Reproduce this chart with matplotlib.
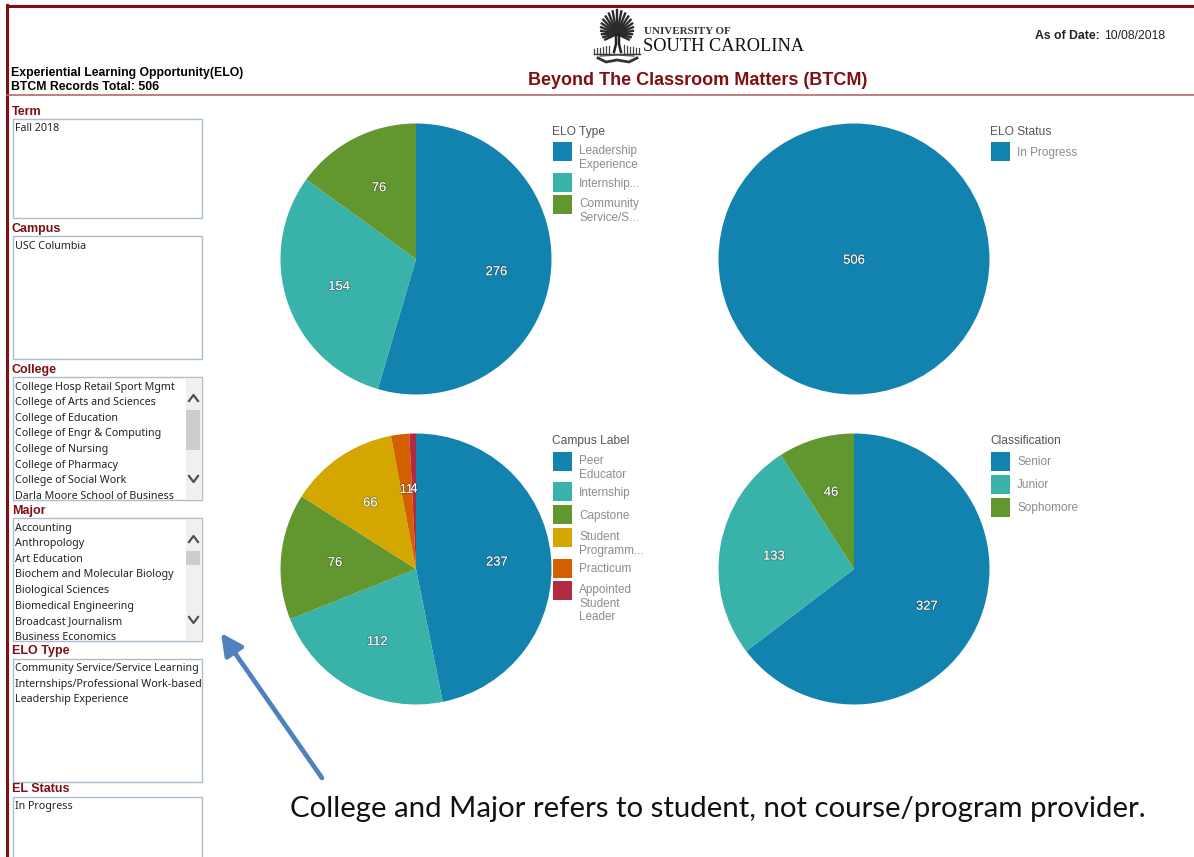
"""Beyond The Classroom Matters dashboard screenshot, redrawn."""
import numpy as np
import matplotlib
matplotlib.use('Agg')
import matplotlib.pyplot as plt
import matplotlib.patheffects as pe
from matplotlib.patches import Rectangle

W, H = 1194, 857

# chart data
elo_type = [276, 154, 76]
elo_type_labels = ['Leadership\nExperience', 'Internship...', 'Community\nService/S...']
elo_status = [506]
elo_status_labels = ['In Progress']
campus_label = [237, 112, 76, 66, 11, 4]
campus_label_labels = ['Peer\nEducator', 'Internship', 'Capstone', 'Student\nProgramm...',
                       'Practicum', 'Appointed\nStudent\nLeader']
classification = [327, 133, 46]
classification_labels = ['Senior', 'Junior', 'Sophomore']

term_items = ['Fall 2018']
campus_items = ['USC Columbia']
college_items = ['College Hosp Retail Sport Mgmt', 'College of Arts and Sciences',
                 'College of Education', 'College of Engr & Computing', 'College of Nursing',
                 'College of Pharmacy', 'College of Social Work', 'Darla Moore School of Business']
major_items = ['Accounting', 'Anthropology', 'Art Education', 'Biochem and Molecular Biology',
               'Biological Sciences', 'Biomedical Engineering', 'Broadcast Journalism',
               'Business Economics']
elo_type_items = ['Community Service/Service Learning', 'Internships/Professional Work-based',
                  'Leadership Experience']
status_items = ['In Progress']

COLORS = ['#1283ae', '#39b2aa', '#62962e', '#d4a700', '#d45f00', '#b22a41']
MAROON = '#7f0f12'
HEAD = 'Liberation Sans'
LIST = 'Noto Sans'


def px(size):
    """font size in pixels to points at 100 dpi"""
    return size * 0.72


fig = plt.figure(figsize=(W / 100, H / 100), dpi=100, facecolor='white')
bg = fig.add_axes([0, 0, 1, 1])
bg.set_xlim(0, W)
bg.set_ylim(H, 0)
bg.axis('off')


def draw_pie(values, cx, cy, r=135.5):
    ax = fig.add_axes([(cx - r) / W, 1 - (cy + r) / H, 2 * r / W, 2 * r / H])
    wedges, _ = ax.pie(values, colors=COLORS[:len(values)], startangle=90, counterclock=False,
                       radius=1, wedgeprops={'linewidth': 0})
    ax.set_xlim(-1, 1)
    ax.set_ylim(-1, 1)
    for w, v in zip(wedges, values):
        if len(values) == 1:
            x, y = 0, 0
        else:
            ang = np.radians((w.theta1 + w.theta2) / 2)
            x, y = 0.6 * np.cos(ang), 0.6 * np.sin(ang)
        ax.text(x, y - 0.012, str(v), color='white', fontsize=px(13), family=HEAD, ha='center', va='center',
                path_effects=[pe.withStroke(linewidth=1.2, foreground='#33333366')])


def draw_legend(title, labels, x, title_y, swatch_y, label_y):
    bg.text(x, title_y + 1, title, fontsize=px(12), family=HEAD, color='#555555', va='center')
    for i, (lab, sy, ly) in enumerate(zip(labels, swatch_y, label_y)):
        bg.add_patch(Rectangle((x + 1, sy - 9.5), 19, 19, fc=COLORS[i], ec='none'))
        for j, line in enumerate(lab.split('\n')):
            bg.text(x + 27, ly + 1.3 + j * 13.3, line, fontsize=px(11.8), family=HEAD, color='#8c8c8c',
                    va='center')


def list_box(title, items, y0, y1, title_y, thumb=None):
    bg.text(12, title_y + 1, title, fontsize=px(12.5), family=HEAD, weight='bold', color=MAROON, va='center')
    box = Rectangle((12.5, y0), 189, y1 - y0, fc='white', ec='#a9bfd0', lw=1)
    bg.add_patch(box)
    for i, item in enumerate(items):
        t = bg.text(15, y0 + 10 + i * 15.6, item, fontsize=px(10.7), family=LIST, color='#222222', va='center')
        t.set_clip_path(box)
    if thumb is not None:
        bg.add_patch(Rectangle((186, y0 + 1), 15.5, y1 - y0 - 2, fc='#f0f0f0', ec='none'))
        bg.add_patch(Rectangle((186, thumb[0]), 14, thumb[1] - thumb[0], fc='#cdcdcd', ec='none'))
        for yc, s in ((y0 + 21, -1), (y1 - 21, 1)):
            bg.plot([189, 193.5, 198], [yc - s * 3, yc + s * 3, yc - s * 3], color='#505050', lw=1.6)


# frame
bg.plot([7, W], [5.5, 5.5], color=MAROON, lw=2.2)
bg.plot([7, 7], [5, H], color=MAROON, lw=2.2)
bg.plot([7, W], [94.5, 94.5], color='#b46a6c', lw=1.2)

# header
bg.text(11, 73, 'Experiential Learning Opportunity(ELO)', fontsize=px(12.3), family=HEAD, weight='bold', va='center')
bg.text(11, 87, 'BTCM Records Total: 506', fontsize=px(12.3), family=HEAD, weight='bold', va='center')
bg.text(698, 80, 'Beyond The Classroom Matters (BTCM)', fontsize=px(18), family=HEAD, weight='bold',
        color=MAROON, ha='center', va='center')
bg.text(1035, 36, 'As of Date:', fontsize=px(12.3), family=HEAD, weight='bold', color='#222222', va='center')
bg.text(1104, 36, '10/08/2018', fontsize=px(12.1), family=HEAD, color='#222222', va='center')

# logo, palm tree plus wordmark
for a in np.linspace(-118, 118, 21):
    ang = np.radians(a)
    n = 1 - abs(a) / 300
    bg.plot([617, 617 + 22 * n * np.sin(ang)], [34, 33 - 23 * n * np.cos(ang)],
            color='#2a2a2a', lw=1.7)
bg.plot([614, 616, 616], [52, 44, 34], color='#222222', lw=1.8)
bg.plot([621, 619, 619], [52, 44, 34], color='#222222', lw=1.8)
for xb in np.arange(594, 640, 3.0):
    if abs(xb - 617.5) > 6:
        bg.plot([xb, xb], [44 + abs(xb - 617.5) * 0.2, 54], color='#444444', lw=0.9)
bg.plot([594, 640], [54, 54], color='#333333', lw=1)
bg.plot([598, 606, 617, 629, 637], [58, 62, 60, 62, 58], color='#333333', lw=2)
bg.plot([600, 617, 634], [56, 55, 56], color='#555555', lw=1)
bg.text(644, 31, 'UNIVERSITY OF', fontsize=px(11), family='Liberation Serif', weight='bold',
        color='#333333', va='center')
bg.text(643, 46, 'SOUTH CAROLINA', fontsize=px(18.4), family='Liberation Serif', color='#111111', va='center')

# filter column
list_box('Term', term_items, 118.5, 218, 111)
list_box('Campus', campus_items, 236, 359, 228)
list_box('College', college_items, 377, 500, 369, thumb=(410, 450))
list_box('Major', major_items, 518, 641, 510, thumb=(551, 565))
list_box('ELO Type', elo_type_items, 658.5, 782, 650)
list_box('EL Status', status_items, 796.5, 870, 788)

# pies
draw_pie(elo_type, 416, 259)
draw_pie(elo_status, 854, 259)
draw_pie(campus_label, 416, 569)
draw_pie(classification, 854, 569)

draw_legend('ELO Type', elo_type_labels, 552, 131, [151, 182, 204], [150, 183, 203])
draw_legend('ELO Status', elo_status_labels, 990, 131, [151], [152])
draw_legend('Campus Label', campus_label_labels, 552, 440, [461, 491, 514, 537, 568, 590],
            [460, 492, 515, 536, 568, 589])
draw_legend('Classification', classification_labels, 990, 440, [461, 484, 507], [461, 484, 507])

# note and arrow
bg.annotate('', xy=(221, 633), xytext=(322, 778),
            arrowprops={'arrowstyle': '-|>,head_length=1.0,head_width=0.5', 'color': '#4f81bd',
                        'lw': 3.4, 'shrinkA': 0, 'shrinkB': 0, 'mutation_scale': 13})
bg.text(290, 809, 'College and Major refers to student, not course/program provider.',
        fontsize=px(29.4), family='Lato', color='#111111', va='center')

fig.savefig('out.png', dpi=100)
